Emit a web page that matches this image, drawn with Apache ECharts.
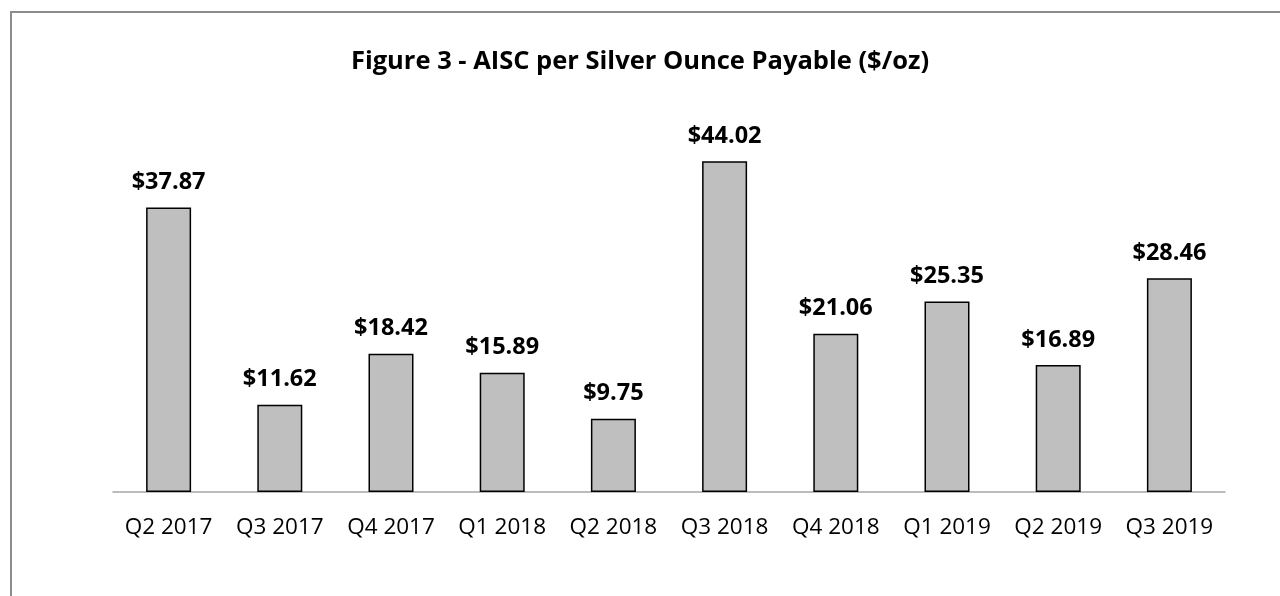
<!DOCTYPE html>
<html>
<head>
<meta charset="utf-8">
<script src="https://cdn.jsdelivr.net/npm/echarts@6/dist/echarts.min.js"></script>
<style>
html,body{margin:0;padding:0;background:#fff;}
#chart{width:1280px;height:596px;}
</style>
</head>
<body>
<div id="chart"></div>
<script>
const titleText = 'Figure 3 - AISC per Silver Ounce Payable ($/oz)';
const categories = ['Q2 2017','Q3 2017','Q4 2017','Q1 2018','Q2 2018','Q3 2018','Q4 2018','Q1 2019','Q2 2019','Q3 2019'];
const aiscValues = [37.87, 11.62, 18.42, 15.89, 9.75, 44.02, 21.06, 25.35, 16.89, 28.46];

const chart = echarts.init(document.getElementById('chart'), null, {renderer: 'canvas'});
const FONT = '"Open Sans", "Noto Sans", sans-serif';
chart.setOption({
  animation: false,
  backgroundColor: '#ffffff',
  title: {
    text: titleText,
    left: 'center',
    top: 44,
    textStyle: {fontFamily: FONT, fontSize: 25.5, fontWeight: 'bold', color: '#000'}
  },
  graphic: [{
    type: 'rect',
    shape: {x: 11, y: 12, width: 1400, height: 700},
    style: {fill: 'none', stroke: '#8c8c8c', lineWidth: 2},
    silent: true, z: -1
  }],
  grid: {left: 113, right: 55, top: 116.4, bottom: 104, containLabel: false},
  xAxis: {
    type: 'category',
    data: categories,
    axisTick: {show: false},
    axisLine: {lineStyle: {color: '#a6a6a6', width: 1.5}},
    axisLabel: {fontFamily: FONT, fontSize: 22.5, color: '#000', margin: 24, interval: 0}
  },
  yAxis: {
    type: 'value', min: 0, max: 50, interval: 10, show: false,
    splitLine: {show: false}
  },
  series: [{
    type: 'bar',
    data: aiscValues,
    barWidth: 45,
    itemStyle: {color: '#bfbfbf', borderColor: '#000', borderWidth: 1.5},
    label: {
      show: true, position: 'top', distance: 13,
      fontFamily: FONT, fontSize: 23.5, fontWeight: 'bold', color: '#000',
      formatter: p => '$' + p.value.toFixed(2)
    }
  }]
});
</script>
</body>
</html>
